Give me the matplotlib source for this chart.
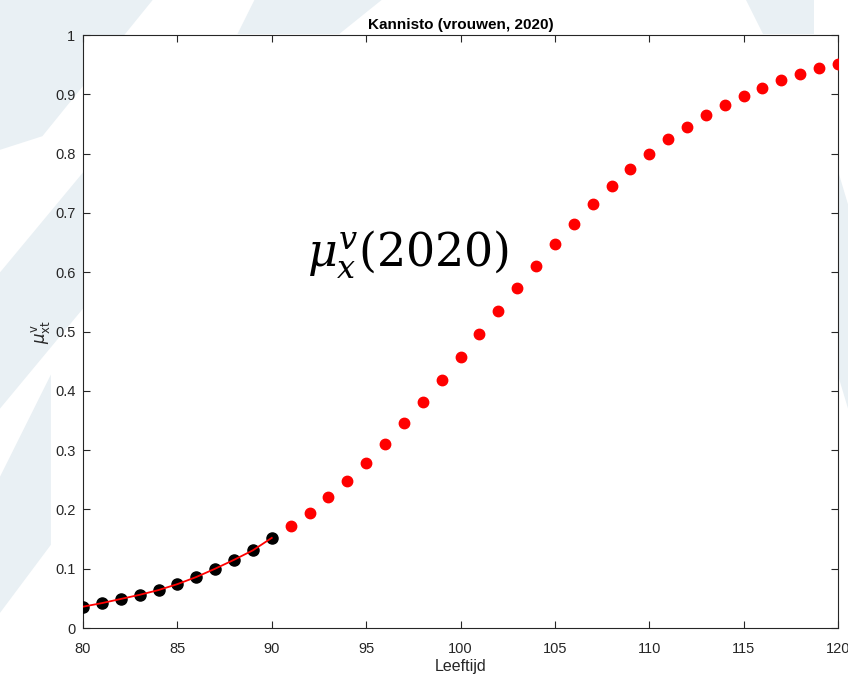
import matplotlib
matplotlib.use("Agg")
import matplotlib.pyplot as plt
from matplotlib.patches import Polygon
import numpy as np

plt.rcParams['font.family'] = ['Liberation Sans', 'DejaVu Sans']
plt.rcParams['mathtext.fontset'] = 'dejavuserif'

# Data
ages_obs = [80, 81, 82, 83, 84, 85, 86, 87, 88, 89, 90]
mu_obs = [0.036, 0.042, 0.049, 0.056, 0.064, 0.074, 0.086, 0.100, 0.115, 0.131, 0.152]

ages_fit = list(range(80, 121))
mu_fit = [0.036, 0.042, 0.049, 0.056, 0.064, 0.074, 0.086, 0.100, 0.115, 0.131, 0.152,
          0.172, 0.194, 0.221, 0.248, 0.278, 0.310, 0.346, 0.381, 0.418, 0.457,
          0.496, 0.535, 0.573, 0.610, 0.648, 0.681, 0.715, 0.745, 0.774, 0.799,
          0.825, 0.845, 0.865, 0.882, 0.897, 0.911, 0.924, 0.934, 0.944, 0.951]

xticks = [80, 85, 90, 95, 100, 105, 110, 115, 120]
yticks = [0, 0.1, 0.2, 0.3, 0.4, 0.5, 0.6, 0.7, 0.8, 0.9, 1]
ytick_labels = ['0', '0.1', '0.2', '0.3', '0.4', '0.5', '0.6', '0.7', '0.8', '0.9', '1']

fig = plt.figure(figsize=(8.48, 6.81), dpi=100)
fig.patch.set_facecolor('white')

# faint watermark-like background shapes
bg = [
    [(0.0, 1.0), (0.18, 1.0), (0.05, 0.80), (0.0, 0.78)],
    [(0.0, 0.60), (0.10, 0.75), (0.10, 0.55), (0.0, 0.40)],
    [(0.0, 0.30), (0.06, 0.45), (0.06, 0.20), (0.0, 0.10)],
    [(0.88, 1.0), (0.96, 1.0), (0.96, 0.95), (0.90, 0.95)],
    [(0.988, 0.75), (1.0, 0.70), (1.0, 0.40), (0.988, 0.45)],
    [(0.30, 1.0), (0.45, 1.0), (0.40, 0.95), (0.28, 0.95)],
]
for pts in bg:
    fig.patches.append(Polygon(pts, closed=True, transform=fig.transFigure,
                               facecolor='#e9f0f4', edgecolor='none', zorder=-5))

ax = fig.add_axes([0.0979, 0.0778, 0.8903, 0.8708])
ax.set_zorder(1)
ax.set_facecolor('white')

ax.plot(ages_fit[11:], mu_fit[11:], 'o', color='red', ms=7.5, mec='red', zorder=3)
ax.plot(ages_obs, mu_obs, 'o', color='black', ms=8, mec='black', zorder=4)
ax.plot(ages_fit[:11], mu_fit[:11], color='red', lw=1.3, zorder=5)

ax.set_xlim(80, 120)
ax.set_ylim(0, 1)
ax.set_xticks(xticks)
ax.set_yticks(yticks)
ax.set_yticklabels(ytick_labels)
ax.tick_params(direction='in', top=True, right=True, labelsize=10.5, length=5, width=0.8,
               colors='#262626')
ax.tick_params(axis='x', pad=10)
ax.tick_params(axis='y', pad=5.5)
for s in ax.spines.values():
    s.set_color('#262626')
    s.set_linewidth(0.8)

ax.set_title('Kannisto (vrouwen, 2020)', fontsize=11, fontweight='bold', pad=4)
ax.set_xlabel('Leeftijd', fontsize=11.5, labelpad=2, color='#262626')
ax.set_ylabel(r'$\mu^{\mathrm{v}}_{\mathrm{xt}}$', fontsize=12, labelpad=2, color='#262626',
              math_fontfamily='dejavusans')

ax.text(91.85, 0.63, r'$\mu_x^v(2020)$', fontsize=33, va='center', ha='left', color='black')

fig.savefig('out.png', dpi=100)
